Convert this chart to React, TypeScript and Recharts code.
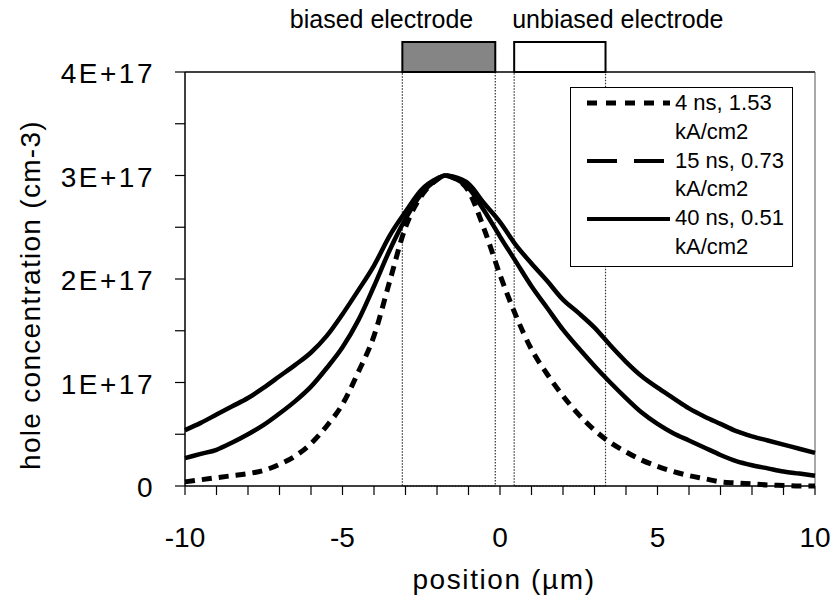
import React from "react";
import {
  Label,
  Legend,
  Line,
  LineChart,
  ReferenceArea,
  ReferenceLine,
  XAxis,
  YAxis,
} from "recharts";

// position in µm
const positions = [
  -10, -9.5, -9, -8.5, -8, -7.5, -7, -6.5, -6, -5.5, -5, -4.5, -4, -3.5, -3,
  -2.5, -2, -1.75, -1.5, -1, -0.5, 0, 0.5, 1, 1.5, 2, 2.5, 3, 3.5, 4, 4.5, 5,
  5.5, 6, 6.5, 7, 7.5, 8, 8.5, 9, 9.5, 10,
];

// hole concentration, units of 1E+17 cm-3
const holes4ns = [
  0.04, 0.06, 0.08, 0.1, 0.12, 0.15, 0.21, 0.29, 0.41, 0.58, 0.79, 1.1, 1.45,
  1.98, 2.5, 2.8, 2.96, 3.0, 2.98, 2.85, 2.48, 2.04, 1.65, 1.32, 1.08, 0.87,
  0.69, 0.54, 0.42, 0.33, 0.25, 0.19, 0.14, 0.1, 0.07, 0.04, 0.03, 0.02, 0.01,
  0.005, 0, 0,
];
const holes15ns = [
  0.27, 0.31, 0.35, 0.42, 0.5, 0.59, 0.7, 0.82, 0.96, 1.14, 1.34, 1.6, 1.93,
  2.28, 2.58, 2.82, 2.96, 3.0, 2.98, 2.88, 2.66, 2.41, 2.17, 1.93, 1.72, 1.51,
  1.33, 1.16, 1.0, 0.85, 0.71, 0.6, 0.51, 0.44, 0.37, 0.3, 0.24, 0.2, 0.17,
  0.14, 0.12, 0.1,
];
const holes40ns = [
  0.54, 0.61, 0.69, 0.77, 0.85, 0.95, 1.06, 1.17, 1.29, 1.45, 1.66, 1.89, 2.13,
  2.42, 2.65, 2.86, 2.97, 3.0, 2.99, 2.92, 2.73, 2.55, 2.33, 2.15, 1.98, 1.8,
  1.67, 1.53, 1.36, 1.2, 1.06, 0.95, 0.85, 0.75, 0.67, 0.6, 0.53, 0.48, 0.44,
  0.4, 0.36, 0.32,
];

const seriesNames = ["4 ns, 1.53", "15 ns, 0.73", "40 ns, 0.51"];
const seriesUnit = "kA/cm2";

// electrodes (µm)
const biased = [-3.1, -0.15];
const unbiased = [0.45, 3.35];
const electrodeTop = 4.29;

const xTicks = [
  -10, -9, -8, -7, -6, -5, -4, -3, -2, -1, 0, 1, 2, 3, 4, 5, 6, 7, 8, 9, 10,
];
const yTicks = [0, 0.5, 1, 1.5, 2, 2.5, 3, 3.5, 4];

const data = positions.map((x, i) => ({
  x,
  t4: holes4ns[i],
  t15: holes15ns[i],
  t40: holes40ns[i],
}));

const font = "'Liberation Sans', Arial, sans-serif";

const XTick = (p: any) => {
  const v = p.payload.value;
  if (v % 5 !== 0) return <g />;
  return (
    <text x={p.x} y={p.y} dy={52} textAnchor="middle" fontFamily={font} fontSize={28} fill="#000">
      {v}
    </text>
  );
};

const YTick = (p: any) => {
  const v = p.payload.value;
  if (!Number.isInteger(v)) return <g />;
  return (
    <text x={p.x} y={p.y} dy={11} textAnchor="end" fontFamily={font} fontSize={28} letterSpacing={2.5} fill="#000">
      {v === 0 ? "0" : `${v}E+17`}
    </text>
  );
};

const samples = [
  { dash: "10 9", width: 5 },
  { dash: "30 17", width: 4 },
  { dash: undefined, width: 4 },
];

const LegendBox = () => (
  <div
    style={{
      width: 223,
      height: 180,
      boxSizing: "border-box",
      border: "1px solid #000",
      background: "#fff",
      fontFamily: font,
      fontSize: 22,
      lineHeight: "28.8px",
      color: "#000",
      paddingTop: 1,
    }}
  >
    {seriesNames.map((name, i) => (
      <div key={name}>
        <div style={{ display: "flex", alignItems: "center", height: 28.8 }}>
          <svg width={83} height={10} style={{ marginLeft: 16, marginRight: 5 }}>
            <line
              x1={0}
              y1={5}
              x2={83}
              y2={5}
              stroke="#000"
              strokeWidth={samples[i].width}
              strokeDasharray={samples[i].dash}
            />
          </svg>
          <span>{name}</span>
        </div>
        <div style={{ paddingLeft: 104, height: 28.8 }}>{seriesUnit}</div>
      </div>
    ))}
  </div>
);

export default function App() {
  return (
    <div style={{ position: "absolute", left: 0, top: 0 }}>
      <LineChart
        width={831}
        height={612}
        data={data}
        margin={{ top: 72, right: 16, bottom: 0, left: 0 }}
      >
        <XAxis
          dataKey="x"
          type="number"
          domain={[-10, 10]}
          ticks={xTicks}
          interval={0}
          height={126}
          tickSize={9}
          tickMargin={0}
          tick={XTick}
          axisLine={{ stroke: "#000", strokeWidth: 1.5 }}
          tickLine={{ stroke: "#000", strokeWidth: 1.2 }}
        >
          <Label
            content={({ viewBox }: any) => (
              <text
                x={viewBox.x + viewBox.width / 2 + 4}
                y={viewBox.y + 103}
                textAnchor="middle"
                fontFamily={font}
                fontSize={28}
                letterSpacing={1.6}
                fill="#000"
              >
                position (µm)
              </text>
            )}
          />
        </XAxis>
        <YAxis
          type="number"
          domain={[0, 4]}
          ticks={yTicks}
          interval={0}
          width={185}
          tickSize={10}
          tickMargin={20}
          tick={YTick}
          axisLine={{ stroke: "#000", strokeWidth: 1.5 }}
          tickLine={{ stroke: "#000", strokeWidth: 1.2 }}
        >
          <Label
            content={({ viewBox }: any) => {
              const cx = viewBox.x + 40;
              const cy = viewBox.y + viewBox.height / 2 + 16;
              return (
                <text
                  x={cx}
                  y={cy}
                  transform={`rotate(-90, ${cx}, ${cy})`}
                  textAnchor="middle"
                  fontFamily={font}
                  fontSize={28}
                  letterSpacing={1.3}
                  fill="#000"
                >
                  hole concentration (cm-3)
                </text>
              );
            }}
          />
        </YAxis>

        <ReferenceLine y={4} stroke="#000" strokeWidth={1.5} />
        <ReferenceLine x={10} stroke="#555" strokeWidth={1} />

        <ReferenceArea
          x1={biased[0]}
          x2={biased[1]}
          y1={0}
          y2={4}
          fill="none"
          fillOpacity={0}
          stroke="#333"
          strokeWidth={1.2}
          strokeDasharray="1.5 1.5"
        />
        <ReferenceArea
          x1={unbiased[0]}
          x2={unbiased[1]}
          y1={0}
          y2={4}
          fill="none"
          fillOpacity={0}
          stroke="#333"
          strokeWidth={1.2}
          strokeDasharray="1.5 1.5"
        />
        <ReferenceArea
          x1={biased[0]}
          x2={biased[1]}
          y1={4}
          y2={electrodeTop}
          ifOverflow="visible"
          fill="#858585"
          fillOpacity={1}
          stroke="#000"
          strokeWidth={2}
        >
          <Label
            content={({ viewBox }: any) => (
              <text
                x={viewBox.x + viewBox.width - 22}
                y={viewBox.y - 14}
                textAnchor="end"
                fontFamily={font}
                fontSize={25}
                fill="#000"
              >
                biased electrode
              </text>
            )}
          />
        </ReferenceArea>
        <ReferenceArea
          x1={unbiased[0]}
          x2={unbiased[1]}
          y1={4}
          y2={electrodeTop}
          ifOverflow="visible"
          fill="#fff"
          fillOpacity={1}
          stroke="#000"
          strokeWidth={2}
        >
          <Label
            content={({ viewBox }: any) => (
              <text
                x={viewBox.x - 2}
                y={viewBox.y - 14}
                textAnchor="start"
                fontFamily={font}
                fontSize={25}
                fill="#000"
              >
                unbiased electrode
              </text>
            )}
          />
        </ReferenceArea>

        <Line
          type="monotone"
          dataKey="t4"
          name={seriesNames[0]}
          stroke="#000"
          strokeWidth={5}
          strokeDasharray="10 7"
          dot={false}
          isAnimationActive={false}
        />
        <Line
          type="monotone"
          dataKey="t15"
          name={seriesNames[1]}
          stroke="#000"
          strokeWidth={4.5}
          dot={false}
          isAnimationActive={false}
        />
        <Line
          type="monotone"
          dataKey="t40"
          name={seriesNames[2]}
          stroke="#000"
          strokeWidth={4.5}
          dot={false}
          isAnimationActive={false}
        />

        <Legend
          layout="vertical"
          verticalAlign="middle"
          align="center"
          wrapperStyle={{ left: 570, top: 87, width: 223, height: 180 }}
          content={() => <LegendBox />}
        />
      </LineChart>
    </div>
  );
}
